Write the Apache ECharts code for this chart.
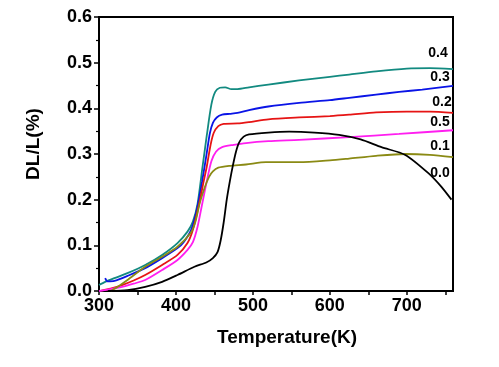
<!DOCTYPE html>
<html>
<head>
<meta charset="utf-8">
<script src="https://cdn.jsdelivr.net/npm/echarts@6/dist/echarts.min.js"></script>
<style>html,body{margin:0;padding:0;background:#fff;}#c{width:499px;height:367px;}</style>
</head>
<body>
<div id="c"></div>
<script>
const seriesNames = ['0.4', '0.3', '0.2', '0.5', '0.1', '0.0'];
const seriesColors = ['#128a80', '#0a14e6', '#e61414', '#ff1ef0', '#8a8a14', '#000000'];

const s04 = [[300,0.013],[308,0.02],[320,0.028],[337,0.039],[360,0.057],[382,0.079],[402,0.105],[415,0.13],[422,0.152],[428,0.19],[434,0.265],[440,0.34],[446,0.408],[451,0.436],[457,0.445],[464,0.446],[472,0.442],[480,0.442],[495,0.446],[520,0.452],[560,0.461],[600,0.469],[625,0.474],[660,0.481],[700,0.487],[730,0.488],[760,0.486]];
const s03 = [[308,0.028],[311,0.021],[320,0.022],[337,0.033],[360,0.05],[382,0.072],[402,0.094],[410,0.107],[420,0.135],[427,0.177],[434,0.24],[440,0.302],[444,0.345],[448,0.368],[453,0.38],[460,0.386],[470,0.388],[480,0.39],[495,0.396],[520,0.404],[560,0.412],[600,0.418],[625,0.423],[660,0.43],[690,0.436],[720,0.441],[760,0.449]];
const s02 = [[303,0.001],[315,0.005],[330,0.013],[345,0.023],[360,0.035],[382,0.057],[402,0.079],[415,0.105],[422,0.134],[430,0.19],[436,0.24],[440,0.272],[445,0.32],[449,0.346],[455,0.361],[462,0.366],[480,0.367],[495,0.37],[520,0.376],[560,0.38],[600,0.383],[625,0.386],[660,0.391],[700,0.393],[730,0.393],[760,0.39]];
const s05 = [[300,0.0],[315,0.004],[330,0.009],[345,0.016],[360,0.024],[382,0.046],[402,0.068],[415,0.09],[422,0.107],[428,0.14],[434,0.19],[440,0.24],[446,0.284],[452,0.305],[460,0.315],[475,0.32],[491,0.324],[520,0.328],[560,0.331],[625,0.337],[690,0.344],[760,0.352]];
const s01 = [[315,0.0],[325,0.01],[337,0.024],[360,0.053],[382,0.075],[402,0.097],[419,0.127],[425,0.15],[431,0.193],[437,0.225],[443,0.25],[448,0.262],[455,0.27],[469,0.274],[491,0.277],[517,0.282],[560,0.282],[600,0.286],[625,0.29],[660,0.296],[698,0.3],[730,0.298],[760,0.293]];
const s00 = [[312,0.0],[337,0.002],[360,0.009],[382,0.02],[402,0.035],[424,0.053],[440,0.063],[448,0.072],[454,0.085],[458,0.11],[462,0.15],[466,0.2],[470,0.24],[474,0.275],[478,0.305],[482,0.325],[488,0.338],[495,0.343],[520,0.347],[547,0.349],[580,0.347],[612,0.342],[640,0.332],[667,0.315],[698,0.298],[728,0.258],[745,0.228],[758,0.2]];
const seriesData = [s04, s03, s02, s05, s01, s00];

const xTickLabels = ['300', '400', '500', '600', '700'];
const yTickLabels = ['0.0', '0.1', '0.2', '0.3', '0.4', '0.5', '0.6'];
const labelPos = [[438,53],[440,77],[442,102],[440,122],[440,146],[440,173]];

const FONT = '"Liberation Sans", Arial, sans-serif';
const chart = echarts.init(document.getElementById('c'), null, {renderer: 'canvas'});

const option = {
  animation: false,
  backgroundColor: '#ffffff',
  grid: {left: 99, right: 46, top: 17, bottom: 76, show: true, borderColor: '#000', borderWidth: 2, backgroundColor: 'transparent'},
  xAxis: {
    type: 'value', min: 300, max: 760, interval: 50,
    name: 'Temperature(K)', nameLocation: 'middle', nameGap: 37,
    nameTextStyle: {fontFamily: FONT, fontWeight: 'bold', fontSize: 19, color: '#000', padding: [0, 0, 0, 22]},
    axisLine: {show: true, lineStyle: {color: '#000', width: 2}},
    axisTick: {show: true, inside: false, length: 4, lineStyle: {color: '#000', width: 1.5}},
    splitLine: {show: false},
    axisLabel: {
      fontFamily: FONT, fontWeight: 'bold', fontSize: 18, color: '#000', margin: 6,
      showMaxLabel: false,
      formatter: function (v) { const s = String(Math.round(v)); return xTickLabels.indexOf(s) >= 0 ? s : ''; }
    }
  },
  yAxis: {
    type: 'value', min: 0, max: 0.6, interval: 0.1,
    name: 'DL/L(%)', nameLocation: 'middle', nameGap: 56, nameRotate: 90,
    nameTextStyle: {fontFamily: FONT, fontWeight: 'bold', fontSize: 19, color: '#000', padding: [0, 0, 0, 20]},
    axisLine: {show: true, lineStyle: {color: '#000', width: 2}},
    axisTick: {show: true, inside: false, length: 5, lineStyle: {color: '#000', width: 1.5}},
    minorTick: {show: true, splitNumber: 2, length: 3, lineStyle: {color: '#000', width: 1.2}},
    splitLine: {show: false},
    axisLabel: {
      fontFamily: FONT, fontWeight: 'bold', fontSize: 18, color: '#000', margin: 7,
      formatter: function (v) { const i = Math.round(v * 10); return yTickLabels[i] || ''; }
    }
  },
  series: seriesNames.map(function (n, i) {
    return {
      name: n, type: 'line', data: seriesData[i], smooth: 0.25, showSymbol: false, symbol: 'none',
      lineStyle: {color: seriesColors[i], width: 1.8}, z: 3 + i
    };
  }),
  graphic: seriesNames.map(function (n, i) {
    return {
      type: 'text', x: labelPos[i][0], y: labelPos[i][1], z: 100,
      style: {text: n, fill: '#000', font: 'bold 14px ' + FONT, align: 'center', verticalAlign: 'middle'}
    };
  })
};
chart.setOption(option);
</script>
</body>
</html>
